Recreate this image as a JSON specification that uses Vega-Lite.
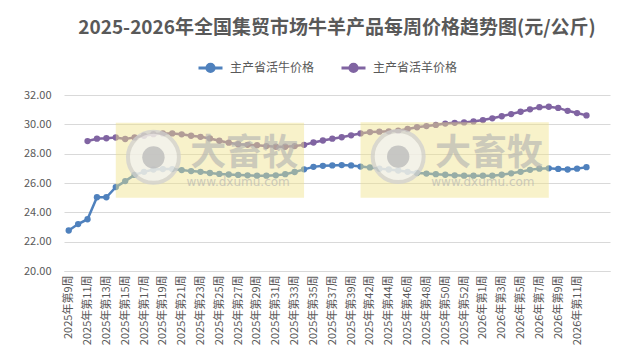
{
  "$schema": "https://vega.github.io/schema/vega-lite/v6.json",
  "width": 546,
  "height": 176,
  "autosize": "none",
  "padding": {"left": 64, "top": 95, "right": 26, "bottom": 90},
  "background": "white",
  "config": {
    "font": "Noto Sans CJK SC",
    "view": {"stroke": null},
    "axis": {"labelColor": "#595959", "labelFont": "Noto Sans CJK SC", "labelFontSize": 11, "titleColor": "#595959"}
  },
  "title": {
    "text": "2025-2026年全国集贸市场牛羊产品每周价格趋势图(元/公斤)",
    "font": "Noto Sans CJK SC",
    "fontSize": 19,
    "fontWeight": "bold",
    "color": "#595959",
    "anchor": "middle",
    "offset": 16
  },
  "datasets": {
    "prices": [
      {"week": "2025年第9周", "series": "主产省活牛价格", "price": 22.76},
      {"week": "2025年第10周", "series": "主产省活牛价格", "price": 23.2},
      {"week": "2025年第11周", "series": "主产省活牛价格", "price": 23.53},
      {"week": "2025年第12周", "series": "主产省活牛价格", "price": 25.03},
      {"week": "2025年第13周", "series": "主产省活牛价格", "price": 25.03},
      {"week": "2025年第14周", "series": "主产省活牛价格", "price": 25.72},
      {"week": "2025年第15周", "series": "主产省活牛价格", "price": 26.13},
      {"week": "2025年第16周", "series": "主产省活牛价格", "price": 26.55},
      {"week": "2025年第17周", "series": "主产省活牛价格", "price": 26.76},
      {"week": "2025年第18周", "series": "主产省活牛价格", "price": 26.92},
      {"week": "2025年第19周", "series": "主产省活牛价格", "price": 26.95},
      {"week": "2025年第20周", "series": "主产省活牛价格", "price": 26.95},
      {"week": "2025年第21周", "series": "主产省活牛价格", "price": 26.88},
      {"week": "2025年第22周", "series": "主产省活牛价格", "price": 26.81},
      {"week": "2025年第23周", "series": "主产省活牛价格", "price": 26.76},
      {"week": "2025年第24周", "series": "主产省活牛价格", "price": 26.68},
      {"week": "2025年第25周", "series": "主产省活牛价格", "price": 26.62},
      {"week": "2025年第26周", "series": "主产省活牛价格", "price": 26.58},
      {"week": "2025年第27周", "series": "主产省活牛价格", "price": 26.55},
      {"week": "2025年第28周", "series": "主产省活牛价格", "price": 26.52},
      {"week": "2025年第29周", "series": "主产省活牛价格", "price": 26.5},
      {"week": "2025年第30周", "series": "主产省活牛价格", "price": 26.5},
      {"week": "2025年第31周", "series": "主产省活牛价格", "price": 26.52},
      {"week": "2025年第32周", "series": "主产省活牛价格", "price": 26.6},
      {"week": "2025年第33周", "series": "主产省活牛价格", "price": 26.75},
      {"week": "2025年第34周", "series": "主产省活牛价格", "price": 26.93},
      {"week": "2025年第35周", "series": "主产省活牛价格", "price": 27.1},
      {"week": "2025年第36周", "series": "主产省活牛价格", "price": 27.17},
      {"week": "2025年第37周", "series": "主产省活牛价格", "price": 27.2},
      {"week": "2025年第38周", "series": "主产省活牛价格", "price": 27.22},
      {"week": "2025年第39周", "series": "主产省活牛价格", "price": 27.2},
      {"week": "2025年第41周", "series": "主产省活牛价格", "price": 27.12},
      {"week": "2025年第42周", "series": "主产省活牛价格", "price": 27.06},
      {"week": "2025年第43周", "series": "主产省活牛价格", "price": 26.98},
      {"week": "2025年第44周", "series": "主产省活牛价格", "price": 26.92},
      {"week": "2025年第45周", "series": "主产省活牛价格", "price": 26.85},
      {"week": "2025年第46周", "series": "主产省活牛价格", "price": 26.76},
      {"week": "2025年第47周", "series": "主产省活牛价格", "price": 26.68},
      {"week": "2025年第48周", "series": "主产省活牛价格", "price": 26.64},
      {"week": "2025年第49周", "series": "主产省活牛价格", "price": 26.6},
      {"week": "2025年第50周", "series": "主产省活牛价格", "price": 26.56},
      {"week": "2025年第51周", "series": "主产省活牛价格", "price": 26.52},
      {"week": "2025年第52周", "series": "主产省活牛价格", "price": 26.5},
      {"week": "2025年第53周", "series": "主产省活牛价格", "price": 26.5},
      {"week": "2026年第1周", "series": "主产省活牛价格", "price": 26.5},
      {"week": "2026年第2周", "series": "主产省活牛价格", "price": 26.5},
      {"week": "2026年第3周", "series": "主产省活牛价格", "price": 26.56},
      {"week": "2026年第4周", "series": "主产省活牛价格", "price": 26.66},
      {"week": "2026年第5周", "series": "主产省活牛价格", "price": 26.76},
      {"week": "2026年第6周", "series": "主产省活牛价格", "price": 26.9},
      {"week": "2026年第7周", "series": "主产省活牛价格", "price": 26.98},
      {"week": "2026年第8周", "series": "主产省活牛价格", "price": 27.0},
      {"week": "2026年第9周", "series": "主产省活牛价格", "price": 26.96},
      {"week": "2026年第10周", "series": "主产省活牛价格", "price": 26.92},
      {"week": "2026年第11周", "series": "主产省活牛价格", "price": 26.98},
      {"week": "2026年第12周", "series": "主产省活牛价格", "price": 27.08},
      {"week": "2025年第11周", "series": "主产省活羊价格", "price": 28.86},
      {"week": "2025年第12周", "series": "主产省活羊价格", "price": 29.02},
      {"week": "2025年第13周", "series": "主产省活羊价格", "price": 29.05},
      {"week": "2025年第14周", "series": "主产省活羊价格", "price": 29.1},
      {"week": "2025年第15周", "series": "主产省活羊价格", "price": 29.0},
      {"week": "2025年第16周", "series": "主产省活羊价格", "price": 29.11},
      {"week": "2025年第17周", "series": "主产省活羊价格", "price": 29.22},
      {"week": "2025年第18周", "series": "主产省活羊价格", "price": 29.33},
      {"week": "2025年第19周", "series": "主产省活羊价格", "price": 29.38},
      {"week": "2025年第20周", "series": "主产省活羊价格", "price": 29.38},
      {"week": "2025年第21周", "series": "主产省活羊价格", "price": 29.32},
      {"week": "2025年第22周", "series": "主产省活羊价格", "price": 29.22},
      {"week": "2025年第23周", "series": "主产省活羊价格", "price": 29.15},
      {"week": "2025年第24周", "series": "主产省活羊价格", "price": 29.04},
      {"week": "2025年第25周", "series": "主产省活羊价格", "price": 28.88},
      {"week": "2025年第26周", "series": "主产省活羊价格", "price": 28.75},
      {"week": "2025年第27周", "series": "主产省活羊价格", "price": 28.65},
      {"week": "2025年第28周", "series": "主产省活羊价格", "price": 28.6},
      {"week": "2025年第29周", "series": "主产省活羊价格", "price": 28.58},
      {"week": "2025年第30周", "series": "主产省活羊价格", "price": 28.52},
      {"week": "2025年第31周", "series": "主产省活羊价格", "price": 28.47},
      {"week": "2025年第32周", "series": "主产省活羊价格", "price": 28.47},
      {"week": "2025年第33周", "series": "主产省活羊价格", "price": 28.52},
      {"week": "2025年第34周", "series": "主产省活羊价格", "price": 28.6},
      {"week": "2025年第35周", "series": "主产省活羊价格", "price": 28.76},
      {"week": "2025年第36周", "series": "主产省活羊价格", "price": 28.9},
      {"week": "2025年第37周", "series": "主产省活羊价格", "price": 29.02},
      {"week": "2025年第38周", "series": "主产省活羊价格", "price": 29.12},
      {"week": "2025年第39周", "series": "主产省活羊价格", "price": 29.25},
      {"week": "2025年第41周", "series": "主产省活羊价格", "price": 29.38},
      {"week": "2025年第42周", "series": "主产省活羊价格", "price": 29.47},
      {"week": "2025年第43周", "series": "主产省活羊价格", "price": 29.5},
      {"week": "2025年第44周", "series": "主产省活羊价格", "price": 29.52},
      {"week": "2025年第45周", "series": "主产省活羊价格", "price": 29.56},
      {"week": "2025年第46周", "series": "主产省活羊价格", "price": 29.68},
      {"week": "2025年第47周", "series": "主产省活羊价格", "price": 29.8},
      {"week": "2025年第48周", "series": "主产省活羊价格", "price": 29.88},
      {"week": "2025年第49周", "series": "主产省活羊价格", "price": 29.96},
      {"week": "2025年第50周", "series": "主产省活羊价格", "price": 30.05},
      {"week": "2025年第51周", "series": "主产省活羊价格", "price": 30.1},
      {"week": "2025年第52周", "series": "主产省活羊价格", "price": 30.13},
      {"week": "2025年第53周", "series": "主产省活羊价格", "price": 30.2},
      {"week": "2026年第1周", "series": "主产省活羊价格", "price": 30.29},
      {"week": "2026年第2周", "series": "主产省活羊价格", "price": 30.41},
      {"week": "2026年第3周", "series": "主产省活羊价格", "price": 30.55},
      {"week": "2026年第4周", "series": "主产省活羊价格", "price": 30.7},
      {"week": "2026年第5周", "series": "主产省活羊价格", "price": 30.86},
      {"week": "2026年第6周", "series": "主产省活羊价格", "price": 31.02},
      {"week": "2026年第7周", "series": "主产省活羊价格", "price": 31.17},
      {"week": "2026年第8周", "series": "主产省活羊价格", "price": 31.2},
      {"week": "2026年第9周", "series": "主产省活羊价格", "price": 31.12},
      {"week": "2026年第10周", "series": "主产省活羊价格", "price": 30.92},
      {"week": "2026年第11周", "series": "主产省活羊价格", "price": 30.77},
      {"week": "2026年第12周", "series": "主产省活羊价格", "price": 30.61}
    ],
    "wmBox": [
      {"from": "2025年第14周", "to": "2025年第34周", "low": 25.0, "high": 30.1},
      {"from": "2025年第41周", "to": "2026年第8周", "low": 25.0, "high": 30.15}
    ],
    "wmLogo": [
      {"at": "2025年第18周", "level": 27.75},
      {"at": "2025年第45周", "level": 27.8}
    ],
    "wmText": [
      {"at": "2025年第27周", "level": 28.0, "label": "大畜牧", "kind": "big"},
      {"at": "2026年第1周", "level": 28.0, "label": "大畜牧", "kind": "big"},
      {"at": "2025年第27周", "level": 26.05, "label": "www.dxumu.com", "kind": "small"},
      {"at": "2026年第1周", "level": 26.05, "label": "www.dxumu.com", "kind": "small"}
    ]
  },
  "layer": [
    {
      "data": {"name": "prices"},
      "mark": {"type": "line", "strokeWidth": 2.5, "point": {"filled": true, "size": 40}},
      "encoding": {
        "x": {
          "field": "week",
          "type": "ordinal",
          "sort": null,
          "title": null,
          "scale": {
            "type": "point",
            "padding": 0.5,
            "domain": ["2025年第9周","2025年第10周","2025年第11周","2025年第12周","2025年第13周","2025年第14周","2025年第15周","2025年第16周","2025年第17周","2025年第18周","2025年第19周","2025年第20周","2025年第21周","2025年第22周","2025年第23周","2025年第24周","2025年第25周","2025年第26周","2025年第27周","2025年第28周","2025年第29周","2025年第30周","2025年第31周","2025年第32周","2025年第33周","2025年第34周","2025年第35周","2025年第36周","2025年第37周","2025年第38周","2025年第39周","2025年第41周","2025年第42周","2025年第43周","2025年第44周","2025年第45周","2025年第46周","2025年第47周","2025年第48周","2025年第49周","2025年第50周","2025年第51周","2025年第52周","2025年第53周","2026年第1周","2026年第2周","2026年第3周","2026年第4周","2026年第5周","2026年第6周","2026年第7周","2026年第8周","2026年第9周","2026年第10周","2026年第11周","2026年第12周","2026年第13周","2026年第14周"]
          },
          "axis": {
            "title": null,
            "values": ["2025年第9周","2025年第11周","2025年第13周","2025年第15周","2025年第17周","2025年第19周","2025年第21周","2025年第23周","2025年第25周","2025年第27周","2025年第29周","2025年第31周","2025年第33周","2025年第35周","2025年第37周","2025年第39周","2025年第42周","2025年第44周","2025年第46周","2025年第48周","2025年第50周","2025年第52周","2026年第1周","2026年第3周","2026年第5周","2026年第7周","2026年第9周","2026年第11周"],
            "labelAngle": 270,
            "labelAlign": "right",
            "labelBaseline": "middle",
            "labelPadding": 4,
            "ticks": false,
            "grid": false,
            "domain": true,
            "domainColor": "#d9d9d9",
            "labelOverlap": false
          }
        },
        "y": {
          "field": "price",
          "type": "quantitative",
          "title": null,
          "scale": {"domain": [20, 32], "nice": false, "zero": false},
          "axis": {"title": null, "values": [20, 22, 24, 26, 28, 30, 32], "format": ".2f", "ticks": false, "domain": false, "grid": true, "gridColor": "#d9d9d9", "labelPadding": 13, "labelOverlap": false}
        },
        "color": {
          "field": "series",
          "type": "nominal",
          "scale": {"domain": ["主产省活牛价格", "主产省活羊价格"], "range": ["#4F81BD", "#8064A2"]},
          "legend": {
            "title": null,
            "orient": "none",
            "direction": "horizontal",
            "legendX": 133,
            "legendY": -41,
            "symbolType": "M-1,0L1,0M0.3,0A0.3,0.3 0 1,1 -0.3,0A0.3,0.3 0 1,1 0.3,0",
            "symbolSize": 576,
            "symbolStrokeWidth": 3,
            "labelFont": "Noto Sans CJK SC",
            "labelFontSize": 12,
            "labelColor": "#595959",
            "labelOffset": 6,
            "columnPadding": 20,
            "encode": {"symbols": {"update": {"fill": {"scale": "color", "field": "value"}}}}
          }
        }
      }
    },
    {
      "data": {"name": "wmBox"},
      "mark": {"type": "rect", "fill": "#efe38a", "opacity": 0.45},
      "encoding": {
        "x": {"field": "from", "type": "ordinal", "title": null},
        "x2": {"field": "to"},
        "y": {"field": "low", "type": "quantitative", "title": null, "axis": {"title": null, "values": [20, 22, 24, 26, 28, 30, 32], "format": ".2f", "ticks": false, "domain": false, "grid": true, "gridColor": "#d9d9d9", "labelPadding": 13, "labelOverlap": false}},
        "y2": {"field": "high"}
      }
    },
    {
      "data": {"name": "wmLogo"},
      "mark": {"type": "point", "shape": "circle", "filled": true, "fill": "#f2f2f2", "stroke": "#d0d0d0", "strokeWidth": 4, "size": 2600, "opacity": 0.75},
      "encoding": {
        "x": {"field": "at", "type": "ordinal", "title": null},
        "y": {"field": "level", "type": "quantitative", "title": null, "axis": {"title": null, "values": [20, 22, 24, 26, 28, 30, 32], "format": ".2f", "ticks": false, "domain": false, "grid": true, "gridColor": "#d9d9d9", "labelPadding": 13, "labelOverlap": false}}
      }
    },
    {
      "data": {"name": "wmLogo"},
      "mark": {"type": "point", "shape": "circle", "filled": true, "fill": "#b8b8b8", "size": 500, "opacity": 0.75},
      "encoding": {
        "x": {"field": "at", "type": "ordinal", "title": null},
        "y": {"field": "level", "type": "quantitative", "title": null, "axis": {"title": null, "values": [20, 22, 24, 26, 28, 30, 32], "format": ".2f", "ticks": false, "domain": false, "grid": true, "gridColor": "#d9d9d9", "labelPadding": 13, "labelOverlap": false}}
      }
    },
    {
      "data": {"name": "wmText"},
      "transform": [{"filter": "datum.kind === 'big'"}],
      "mark": {"type": "text", "font": "Noto Sans CJK SC", "fontSize": 36, "fontWeight": "bold", "color": "#b0b0b0", "opacity": 0.6, "baseline": "middle", "align": "center", "dx": 6},
      "encoding": {
        "x": {"field": "at", "type": "ordinal", "title": null},
        "y": {"field": "level", "type": "quantitative", "title": null, "axis": {"title": null, "values": [20, 22, 24, 26, 28, 30, 32], "format": ".2f", "ticks": false, "domain": false, "grid": true, "gridColor": "#d9d9d9", "labelPadding": 13, "labelOverlap": false}},
        "text": {"field": "label"}
      }
    },
    {
      "data": {"name": "wmText"},
      "transform": [{"filter": "datum.kind === 'small'"}],
      "mark": {"type": "text", "font": "DejaVu Sans", "fontSize": 12, "color": "#b0b0b0", "opacity": 0.6, "baseline": "middle", "align": "center"},
      "encoding": {
        "x": {"field": "at", "type": "ordinal", "title": null},
        "y": {"field": "level", "type": "quantitative", "title": null, "axis": {"title": null, "values": [20, 22, 24, 26, 28, 30, 32], "format": ".2f", "ticks": false, "domain": false, "grid": true, "gridColor": "#d9d9d9", "labelPadding": 13, "labelOverlap": false}},
        "text": {"field": "label"}
      }
    }
  ]
}
